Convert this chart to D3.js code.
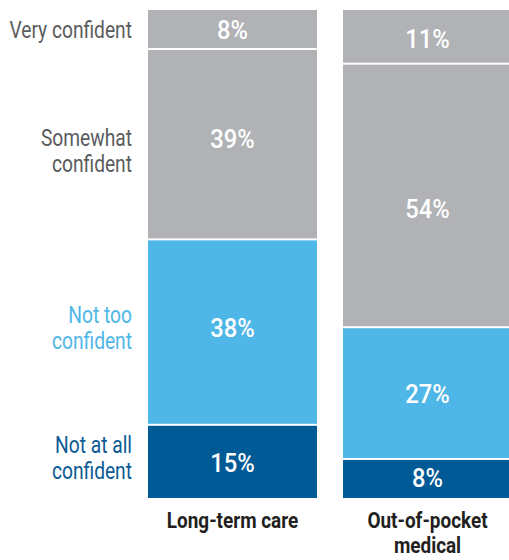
<!DOCTYPE html>
<html>
<head>
<meta charset="utf-8">
<script src="https://cdn.jsdelivr.net/npm/d3@7"></script>
<style>
  html, body { margin: 0; padding: 0; background: #fff; }
  svg { display: block; }
  text { font-family: Roboto, "Noto Sans", sans-serif; }
</style>
</head>
<body>
<svg id="chart" width="509" height="560"></svg>
<script>
// Confidence levels, stacked from the bottom of each bar upwards
const levels = ["Not at all confident", "Not too confident", "Somewhat confident", "Very confident"];
const levelLines = [["Not at all", "confident"], ["Not too", "confident"], ["Somewhat", "confident"], ["Very confident"]];
const categories = ["Long-term care", "Out-of-pocket medical"];
const categoryLines = [["Long-term care"], ["Out-of-pocket", "medical"]];
const longTermCare = [15, 38, 39, 8];
const outOfPocketMedical = [8, 27, 54, 11];

const fills = ["#005a96", "#4fb7e7", "#b1b2b6", "#b1b2b6"];
const labelColors = ["#0b5a94", "#4fb7e7", "#5b5c5e", "#5b5c5e"];

// small vertical nudges for label placement (px)
const levelLabelNudge = [-3, -4, 7, 0];
const valueNudge = { "Long-term care": [2, -4, -5, 0], "Out-of-pocket medical": [0, 1, 14, 2] };

const rows = categories.map((c, i) => {
  const vals = i === 0 ? longTermCare : outOfPocketMedical;
  const r = { category: c };
  levels.forEach((l, j) => r[l] = vals[j]);
  return r;
});

const svg = d3.select("#chart");
const x = d3.scaleBand().domain(categories).range([148, 512]).paddingInner(0.1333).paddingOuter(0);
const y = d3.scaleLinear().domain([0, 100]).range([498, 10]);
const gap = 2;

// condensed text: horizontally squeezed group holding one or more lines
function label(parent, ax, ay, lines, lineH, sx, anchor) {
  const g = parent.append("g").attr("transform", `translate(${ax},${ay}) scale(${sx},1)`);
  const t = g.append("text").attr("text-anchor", anchor);
  t.selectAll("tspan").data(lines).join("tspan")
    .attr("x", 0)
    .attr("y", (s, k) => k * lineH)
    .text(s => s);
  return t;
}

const series = d3.stack().keys(levels)(rows);

const layers = svg.append("g").selectAll("g").data(series).join("g")
  .attr("fill", (d, i) => fills[i]);

layers.selectAll("rect").data(d => d.map(p => ({ p, top: d.index === levels.length - 1 })))
  .join("rect")
  .attr("x", d => x(d.p.data.category))
  .attr("width", x.bandwidth())
  .attr("y", d => y(d.p[1]) + (d.top ? 0 : gap / 2))
  .attr("height", d => y(d.p[0]) - y(d.p[1]) - (d.top ? 0 : gap / 2) - (d.p[0] === 0 ? 0 : gap / 2));

// value labels inside segments
const valueG = svg.append("g");
series.forEach((s, li) => {
  s.forEach(p => {
    const c = p.data.category;
    const cx = x(c) + x.bandwidth() / 2;
    const cy = (y(p[0]) + y(p[1])) / 2 + 9 + valueNudge[c][li];
    label(valueG, cx, cy, [p.data[s.key] + "%"], 0, 0.95, "middle")
      .attr("fill", "#fff")
      .attr("font-size", 25)
      .attr("font-weight", 500);
  });
});

// level labels on the left, centred on the first bar's segments
const first = series.map(s => s[0]);
const lineH = 26;
const levelG = svg.append("g");
levels.forEach((lv, i) => {
  const lines = levelLines[i];
  const cy = (y(first[i][0]) + y(first[i][1])) / 2;
  const y0 = cy - (lines.length - 1) * lineH / 2 + 8 + levelLabelNudge[i];
  label(levelG, 132, y0, lines, lineH, 0.8, "end")
    .attr("fill", labelColors[i])
    .attr("font-size", 24);
});

// category labels beneath the bars
const catG = svg.append("g");
categories.forEach((c, i) => {
  label(catG, x(c) + x.bandwidth() / 2, 527.5, categoryLines[i], 26, 0.88, "middle")
    .attr("fill", "#231f20")
    .attr("font-size", 21.5)
    .attr("font-weight", "bold");
});
</script>
</body>
</html>
